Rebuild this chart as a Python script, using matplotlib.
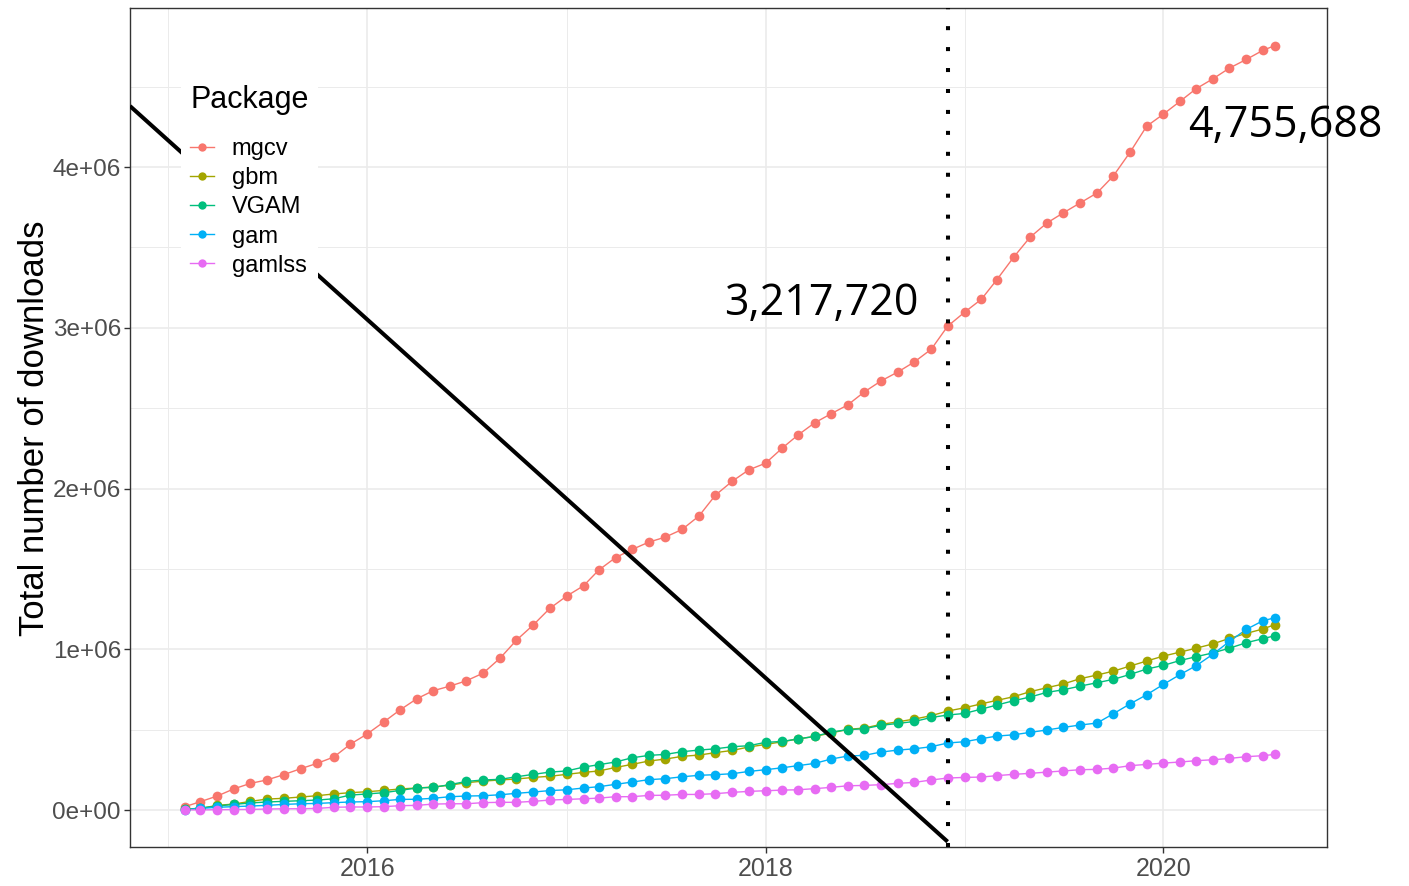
import pandas as pd
import matplotlib
matplotlib.use("Agg")
import matplotlib.pyplot as plt
from matplotlib.lines import Line2D
from matplotlib.ticker import FixedLocator

plt.rcParams['font.family'] = ['Liberation Sans', 'DejaVu Sans']

# cumulative monthly downloads (millions), first day of each month + last partial month
months = list(pd.date_range("2015-02-01", "2020-07-01", freq="MS")) + [pd.Timestamp("2020-07-23")]

mgcv = [0.021, 0.052, 0.087, 0.131, 0.166, 0.187, 0.220, 0.257, 0.290, 0.330, 0.409,
        0.473, 0.549, 0.622, 0.692, 0.742, 0.771, 0.804, 0.852, 0.945, 1.057, 1.152, 1.254,
        1.331, 1.395, 1.493, 1.571, 1.621, 1.667, 1.698, 1.746, 1.830, 1.959, 2.046, 2.116,
        2.158, 2.253, 2.332, 2.409, 2.465, 2.521, 2.601, 2.670, 2.726, 2.788, 2.867, 3.010,
        3.097, 3.178, 3.298, 3.439, 3.563, 3.652, 3.715, 3.777, 3.839, 3.945, 4.094, 4.254,
        4.330, 4.411, 4.488, 4.550, 4.616, 4.670, 4.726, 4.755688]
gbm = [0.004, 0.010, 0.029, 0.037, 0.054, 0.068, 0.073, 0.081, 0.089, 0.100, 0.108,
       0.114, 0.122, 0.131, 0.137, 0.143, 0.155, 0.170, 0.180, 0.187, 0.193, 0.203, 0.210,
       0.222, 0.234, 0.243, 0.265, 0.284, 0.305, 0.317, 0.334, 0.342, 0.357, 0.371, 0.392,
       0.408, 0.425, 0.442, 0.458, 0.479, 0.502, 0.510, 0.533, 0.549, 0.566,
       0.587, 0.616, 0.636, 0.661, 0.682, 0.705, 0.736, 0.761, 0.784, 0.817, 0.840, 0.864,
       0.896, 0.927, 0.958, 0.983, 1.007, 1.034, 1.068, 1.099, 1.126, 1.153]
vgam = [0.004, 0.012, 0.025, 0.035, 0.044, 0.050, 0.054, 0.058, 0.062, 0.070, 0.093,
        0.100, 0.108, 0.122, 0.137, 0.141, 0.158, 0.178, 0.187, 0.191, 0.207, 0.222, 0.236,
        0.243, 0.267, 0.282, 0.299, 0.325, 0.340, 0.346, 0.363, 0.373, 0.381, 0.394, 0.400,
        0.421, 0.427, 0.442, 0.458, 0.485, 0.500, 0.506, 0.527, 0.539, 0.551,
        0.576, 0.591, 0.601, 0.628, 0.653, 0.680, 0.703, 0.732, 0.748, 0.771, 0.792, 0.813,
        0.844, 0.877, 0.900, 0.931, 0.954, 0.978, 1.007, 1.041, 1.066, 1.084]
gam = [0.001, 0.010, 0.017, 0.021, 0.025, 0.029, 0.035, 0.039, 0.041, 0.046, 0.050,
       0.052, 0.058, 0.066, 0.067, 0.073, 0.083, 0.087, 0.089, 0.095, 0.104, 0.112, 0.121,
       0.126, 0.137, 0.145, 0.160, 0.174, 0.189, 0.195, 0.207, 0.216, 0.220, 0.226, 0.240,
       0.251, 0.263, 0.276, 0.290, 0.317, 0.336, 0.340, 0.361, 0.373, 0.381,
       0.394, 0.417, 0.425, 0.444, 0.460, 0.468, 0.483, 0.498, 0.514, 0.529, 0.541, 0.599,
       0.661, 0.717, 0.782, 0.844, 0.898, 0.970, 1.049, 1.124, 1.177, 1.196]
gamlss = [0.001, 0.001, 0.002, 0.003, 0.004, 0.006, 0.008, 0.008, 0.010, 0.017, 0.019,
          0.019, 0.021, 0.027, 0.029, 0.037, 0.039, 0.039, 0.046, 0.048, 0.048, 0.054, 0.062,
          0.066, 0.070, 0.074, 0.083, 0.083, 0.091, 0.092, 0.097, 0.097, 0.102, 0.110, 0.116,
          0.120, 0.124, 0.126, 0.133, 0.141, 0.151, 0.153, 0.158, 0.166, 0.172,
          0.187, 0.199, 0.203, 0.205, 0.214, 0.222, 0.228, 0.236, 0.243, 0.251, 0.253, 0.261,
          0.276, 0.284, 0.292, 0.299, 0.307, 0.313, 0.321, 0.332, 0.338, 0.346]

packages = ["mgcv", "gbm", "VGAM", "gam", "gamlss"]
series = [mgcv, gbm, vgam, gam, gamlss]
colors = ["#F8766D", "#A3A500", "#00BF7D", "#00B0F6", "#E76BF3"]

# hand drawn trend line and the cut-off date
trend_x = [pd.Timestamp("2014-10-23"), pd.Timestamp("2018-12-01")]
trend_y = [4.38e6, -0.197e6]
cutoff = pd.Timestamp("2018-12-01")
cutoff_label = 3217720

yticks = [0, 1e6, 2e6, 3e6, 4e6]
ytick_labels = ["0e+00", "1e+06", "2e+06", "3e+06", "4e+06"]
xticks = [pd.Timestamp("2016-01-01"), pd.Timestamp("2018-01-01"), pd.Timestamp("2020-01-01")]
xtick_labels = ["2016", "2018", "2020"]
xminor = [pd.Timestamp("2015-01-01"), pd.Timestamp("2017-01-01"), pd.Timestamp("2019-01-01")]

fig = plt.figure(figsize=(14.09, 8.86), dpi=100)
ax = fig.add_axes([130 / 1409, 1 - 847 / 886, 1197 / 1409, 839 / 886])

for vals, col in zip(series, colors):
    ax.plot(months, [v * 1e6 for v in vals], color=col, lw=1.0, zorder=2)
for vals, col in zip(series, colors):
    ax.plot(months, [v * 1e6 for v in vals], ls="none", marker="o", ms=7,
            color=col, markeredgewidth=0, zorder=3)

ax.plot(trend_x, trend_y, color="black", lw=2.9, solid_capstyle="butt", zorder=4)
ax.axvline(cutoff, color="black", lw=2.9, ls=(0, (1, 4.2)), dash_capstyle="butt", zorder=4)

ax.annotate("3,217,720", xy=(cutoff, cutoff_label), xytext=(-21, -8),
            textcoords="offset points", ha="right", va="center",
            fontsize=31, family="Open Sans", zorder=6)
ax.annotate("4,755,688", xy=(months[-1], mgcv[-1] * 1e6), xytext=(-62, -58),
            textcoords="offset points", ha="left", va="center",
            fontsize=31, family="Open Sans", annotation_clip=False, zorder=6)

ax.set_xlim(pd.Timestamp("2014-10-23"), pd.Timestamp("2020-10-27"))
ax.set_ylim(-0.23e6, 4.99e6)

ax.set_xticks(xticks)
ax.set_xticklabels(xtick_labels)
ax.xaxis.set_minor_locator(FixedLocator([matplotlib.dates.date2num(d) for d in xminor]))
ax.set_yticks(yticks)
ax.set_yticklabels(ytick_labels)
ax.yaxis.set_minor_locator(FixedLocator([0.5e6, 1.5e6, 2.5e6, 3.5e6, 4.5e6]))

ax.grid(True, which="major", color="#EBEBEB", lw=1.2, zorder=0)
ax.grid(True, which="minor", color="#EBEBEB", lw=0.7, zorder=0)
ax.set_axisbelow(True)

ax.tick_params(which="major", length=4, width=1.0, color="#333333", labelcolor="#4D4D4D")
ax.tick_params(axis="y", labelsize=17.5, pad=2.5)
ax.tick_params(axis="x", labelsize=18, pad=3.5)
ax.tick_params(which="minor", length=0)
for sp in ax.spines.values():
    sp.set_color("#333333")
    sp.set_linewidth(1.0)

fig.text(35 / 1409, 1 - 428 / 886, "Total number of downloads", rotation=90,
         ha="center", va="center", fontsize=25)

handles = [Line2D([0], [0], color=c, lw=1.0, marker="o", ms=6, markeredgewidth=0)
           for c in colors]
leg = ax.legend(handles, packages, title="Package", loc="upper left",
                bbox_to_anchor=(0.0426, 0.919), borderaxespad=0, fontsize=17,
                title_fontsize=22, handlelength=1.0, handletextpad=0.75,
                labelspacing=0.3, borderpad=0.4, frameon=True, fancybox=False,
                facecolor="white", edgecolor="none", framealpha=1, alignment="left")
# extra room between the legend title and the first entry
leg._legend_box.sep = 16.5
leg.set_zorder(5)

fig.savefig("out.png", dpi=100)
